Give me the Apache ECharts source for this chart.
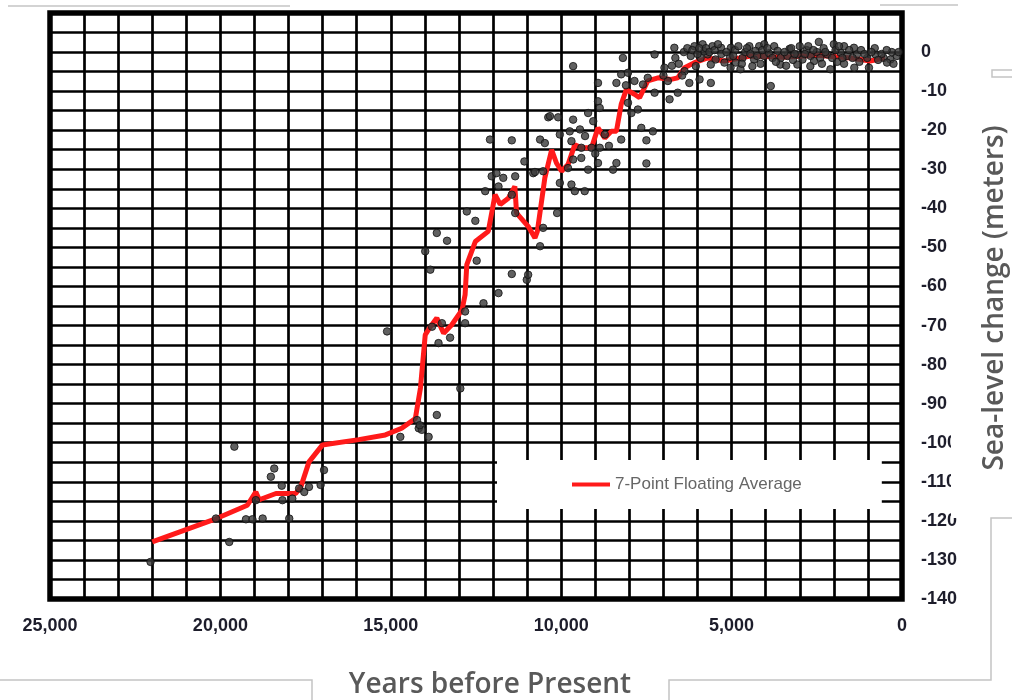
<!DOCTYPE html>
<html>
<head>
<meta charset="utf-8">
<script src="https://cdn.jsdelivr.net/npm/echarts@6/dist/echarts.min.js"></script>
<style>html,body{margin:0;padding:0;background:#fff;}#c{width:1012px;height:700px;}</style>
</head>
<body>
<div id="c"></div>
<script>
// Years before present, sea level (m)
const xTicks = [25000, 20000, 15000, 10000, 5000, 0];
const yTicks = [0, -10, -20, -30, -40, -50, -60, -70, -80, -90, -100, -110, -120, -130, -140];

const averageName = '7-Point Floating Average';
const averageLine = [
  [22000,-125.4],[20200,-119.7],[19210,-116],[18960,-112.6],[18860,-114.6],[18370,-113],[17790,-113],
  [17640,-111.3],[17400,-104.9],[17010,-100.6],[15940,-99.2],[15160,-98],[14680,-96.3],[14280,-93.8],
  [14130,-86],[13990,-72.4],[13840,-70.3],[13650,-68.1],[13450,-72],[13210,-69.8],[12910,-66],
  [12820,-62.1],[12770,-54.4],[12520,-48.5],[12140,-45.9],[11940,-36.5],[11790,-39],[11550,-37.4],
  [11360,-34.4],[11310,-41.2],[10970,-44.6],[10770,-47.6],[10700,-45.9],[10480,-32.2],[10280,-25],
  [10140,-28.4],[9990,-30.5],[9800,-28.8],[9600,-23.7],[9410,-24.5],[9110,-24.5],[8920,-19.4],
  [8720,-22],[8530,-20.3],[8380,-20.3],[8240,-13.4],[8090,-9.6],[7850,-10.8],[7700,-11.7],
  [7460,-7.4],[7160,-6.6],[6780,-7],[6580,-6.6],[6380,-4],[6090,-2.7],[5700,-1.5],[5220,-2.3],
  [4440,-1],[3500,-1.3],[2500,-0.8],[1500,-1.5],[935,-2.3],[500,-1.5]
];

const samplesGlacial = [
  [22050,-130.5],[19740,-125.4],[20130,-119.4],[19590,-101],[19250,-119.6],[19060,-119.6],[18760,-119.4],
  [18960,-114.7],[18420,-106.6],[18520,-108.7],[18200,-111],[18180,-114.7],[17890,-114.3],[17980,-119.4],
  [17690,-111.7],[17540,-112.6],[17400,-111.3],[17060,-110.8],[16960,-107]
];
const samplesDeglacial = [
  [15110,-71.5],[14720,-98.5],[14230,-94.2],[14180,-96.3],[14090,-96.7],[13890,-98.5],[13650,-92.9],[12960,-86.1],
  [13790,-70.3],[13500,-69.4],[13260,-73.1],[13600,-74.5],[12820,-66.4],[12820,-69.4],[12280,-64.3],[11840,-61.7],
  [13990,-51],[13840,-55.7],[13650,-46.3],[13350,-48.3],[12770,-40.8],[12520,-43.2],[12480,-53.4],[11450,-56.8],
  [11010,-58.3],[10970,-57],[12230,-35.6],[12040,-31.8],[11840,-34.4],[11700,-32.2],[11450,-36.5],[11350,-31.8],
  [11350,-41.2],[10820,-31],[12090,-22.4],[11450,-22.6],[11080,-28],[10770,-30.7],[10620,-49.7],[10530,-45],
  [10120,-41.2],[14150,-95.5],[11900,-31]
];
const samplesEarlyHolocene = [
  [10620,-22.4],[10480,-23.3],[10380,-16.7],[10090,-16.7],[9650,-17.3],[9650,-3.6],[10040,-21.1],[9750,-20.3],
  [9450,-19.8],[9700,-22.8],[9410,-24.5],[9110,-24.5],[8870,-24.5],[9650,-27.5],[9410,-27.1],[8920,-28.4],
  [8380,-28.4],[8480,-30.1],[9210,-30.1],[9800,-29.7],[10530,-30.5],[10040,-33.5],[9700,-33.9],[9600,-35.6],
  [9310,-35.6],[8920,-12.6],[8870,-14.3],[9210,-15.6],[9060,-17.7],[8720,-21.1],[8240,-22.4],[8920,-7.9],
  [8380,-7.9],[8240,-5.7],[8040,-5.3],[8190,-1.5],[7850,-7.4],[7600,-8.3],[7460,-6.6],[7260,-10.4],
  [6970,-4],[6870,-7.4],[6820,-12.1],[6580,-10.4],[6380,-4.9],[6240,-7.9],[8040,-13],[7750,-14.7],
  [7940,-15.6],[7650,-19.4],[7310,-20.3],[7500,-22.6],[7260,-0.6],[6680,1.1],[10330,-16.4],[7500,-28.5],
  [9000,-26],[9300,-21.5],[8600,-24],[8100,-8.5],[7000,-6],[6750,-3.5]
];
const samplesLateHolocene = [
  [6090,1.5],[5850,2],[5560,1.5],[5310,1.1],[5020,1.1],[4480,1.5],[4190,1.5],[4040,2],[3750,1.5],[2440,2.6],
  [2000,2],[1700,1.5],[1410,1.1],
  [6200,-1],[5910,-1.5],[5700,-0.6],[5470,-1.9],[5210,-2.7],[4880,-2.7],[4680,-1.5],[4340,-1.9],[4050,-1],
  [3560,-1.5],[3360,-1],[3070,-0.6],[2920,-1.9],[2680,-1],[2580,-2.3],[2190,-0.6],[1800,-0.2],[1610,-1],
  [1320,-0.6],[1020,-1.5],[780,-0.6],[540,-1.5],[340,-1.9],[150,-1],
  [6050,-3.6],[5610,-3.2],[5030,-4],[4740,-4.4],[4390,-3.6],[3570,-3.2],[3070,-3.2],[2690,-3.6],[2100,-4.4],
  [1400,-4],[970,-4],[440,-2.7],
  [5610,-7.9],[5940,-7],[3850,-8.7],
  [6400,0],[5300,-0.5],[4900,0.5],[4600,0],[4300,0.3],[3900,-0.3],[3300,0.8],[3200,-2],[2800,0.5],[2300,1],
  [1900,-2.5],[1200,0.5],[800,1],[600,-0.5],[300,0],[2500,0],[3650,0.3],[5050,-1.2],[5800,0.2],[6650,-1.5],
  [4150,-3],[1700,-3],
  [6300,1],[6150,0.5],[6000,-0.5],[5950,1],[5750,1],[5650,0],[5500,0.5],[5400,2],[5150,0],[4950,-1],
  [4800,1.5],[4700,-3],[4550,1],[4450,-0.5],[4250,-1],[4100,0.5],[3950,1],[3800,-1.5],[3700,-2.5],[3450,0],
  [3400,-3.5],[3250,1],[3150,-0.5],[3000,1.5],[2850,-0.5],[2750,1.5],[2600,0.5],[2400,-1.5],[2350,-3],[2250,0],
  [2050,-1.5],[1950,0.5],[1850,1.5],[1750,-1.5],[1550,0.5],[1450,-1.5],[1250,-2.5],[1100,-0.5],[900,0],[700,-2],
  [450,0.5],[250,-3],[100,0],[6550,-3],[6450,-6]
];
const samples = samplesGlacial.concat(samplesDeglacial, samplesEarlyHolocene, samplesLateHolocene);

const xTitle = 'Years before Present';
const yTitle = 'Sea-level change (meters)';

const chart = echarts.init(document.getElementById('c'), null, {renderer: 'canvas'});
const gridStroke = {color: '#000', width: 2.7};
const labelFont = {color: '#1d1d2b', fontSize: 18, fontWeight: 'bold', fontFamily: 'Liberation Sans, Arial, sans-serif'};
const frame = {stroke: '#c4c4c4', lineWidth: 1.5};

chart.setOption({
  backgroundColor: '#fff',
  animation: false,
  grid: {left: 50, right: 110, top: 13, bottom: 101, show: true, borderColor: '#000', borderWidth: 5.5, backgroundColor: 'transparent'},
  legend: {
    data: [averageName], left: 497, top: 460, backgroundColor: '#fff',
    padding: [16, 80, 16, 75], icon: 'rect', itemWidth: 38, itemHeight: 4,
    textStyle: {color: '#666', fontSize: 17, fontFamily: 'Liberation Sans, Arial, sans-serif'}
  },
  xAxis: {
    type: 'value', min: 0, max: 25000, interval: 5000, inverse: true,
    axisLine: {show: false}, axisTick: {show: false},
    splitLine: {show: true, lineStyle: gridStroke},
    minorTick: {show: false, splitNumber: 5},
    minorSplitLine: {show: true, lineStyle: gridStroke},
    axisLabel: Object.assign({margin: 18, formatter: v => xTicks.includes(v) ? v.toLocaleString('en-US') : ''}, labelFont)
  },
  yAxis: {
    type: 'value', position: 'right', min: -140, max: 10, interval: 10,
    axisLine: {show: false}, axisTick: {show: false},
    splitLine: {show: true, lineStyle: gridStroke},
    minorTick: {show: false, splitNumber: 2},
    minorSplitLine: {show: true, lineStyle: gridStroke},
    axisLabel: Object.assign({margin: 19, formatter: v => yTicks.includes(v) ? String(v) : ''}, labelFont)
  },
  graphic: [
    {type: 'rect', z: 10, shape: {x: 951, y: 420, width: 65, height: 98}, style: {fill: '#fff'}},
    {type: 'line', z: 11, shape: {x1: 8, y1: 6, x2: 290, y2: 6}, style: frame},
    {type: 'line', z: 11, shape: {x1: 880, y1: 5, x2: 958, y2: 5}, style: frame},
    {type: 'rect', z: 11, shape: {x: 992, y: 70, width: 30, height: 7}, style: {fill: 'none', stroke: '#c4c4c4', lineWidth: 1.5}},
    {type: 'polyline', z: 11, shape: {points: [[1012, 518], [991, 518], [991, 680], [669, 680], [669, 700]]}, style: frame},
    {type: 'polyline', z: 11, shape: {points: [[0, 680], [312, 680], [312, 700]]}, style: frame},
    {type: 'text', z: 12, x: 490, y: 685, style: {text: xTitle, align: 'center', verticalAlign: 'middle', fill: '#595959', font: '600 28px "Open Sans", sans-serif'}},
    {type: 'text', z: 12, x: 995, y: 298, rotation: Math.PI / 2, style: {text: yTitle, align: 'center', verticalAlign: 'middle', fill: '#595959', font: '600 28px "Open Sans", sans-serif'}}
  ],
  series: [
    {name: averageName, type: 'line', data: averageLine, showSymbol: false, symbol: 'none', z: 2,
     lineStyle: {color: '#ff1a1a', width: 5}, itemStyle: {color: '#ff1a1a'}},
    {name: 'Samples', type: 'scatter', data: samples, symbolSize: 7.5, z: 3,
     itemStyle: {color: '#383838', borderColor: '#111', borderWidth: 1}}
  ]
});
</script>
</body>
</html>
